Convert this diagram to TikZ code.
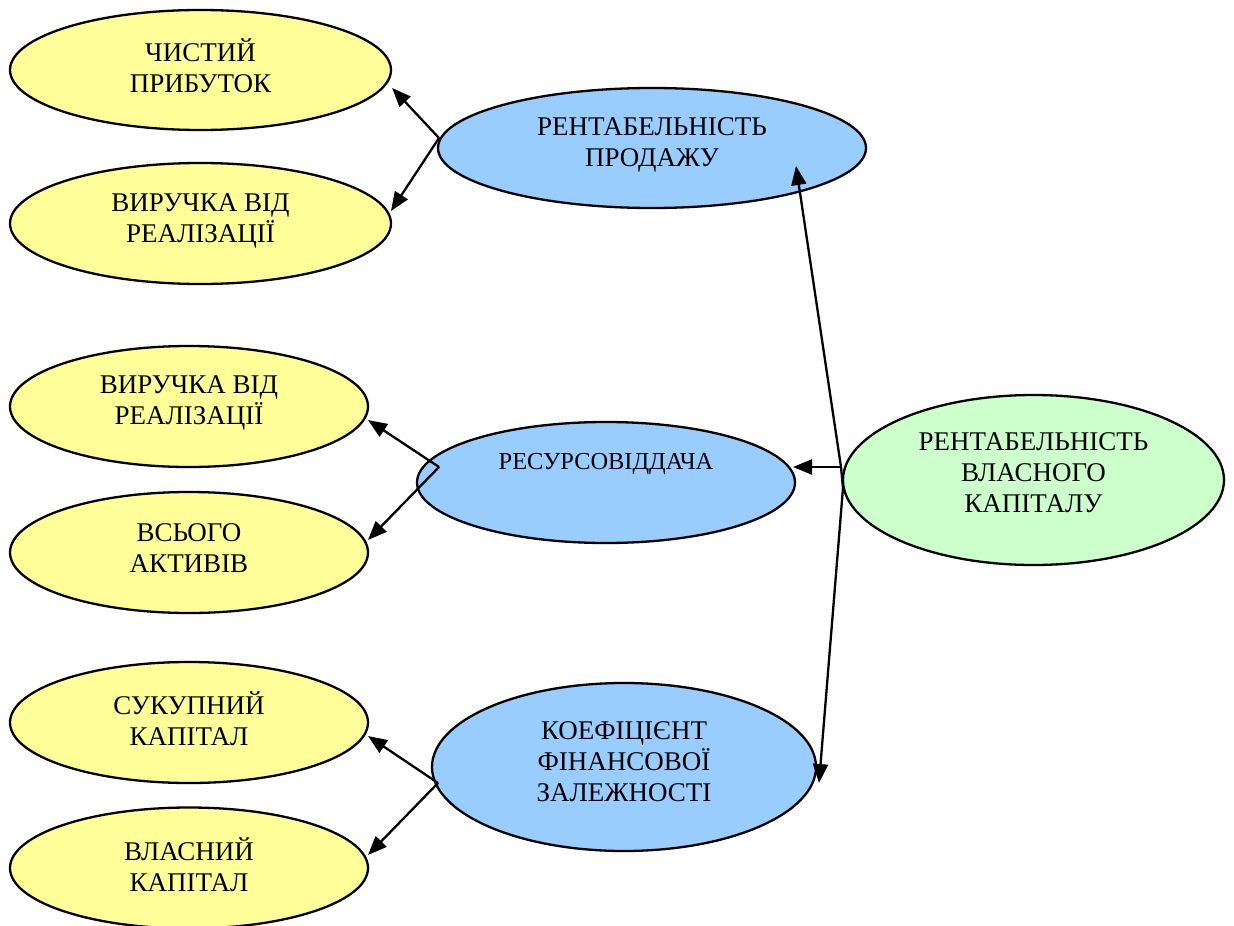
\documentclass[tikz,border=0pt]{standalone}
\usepackage{fontspec}
\setmainfont{Liberation Serif}
\usetikzlibrary{arrows.meta,shapes.geometric}
\definecolor{yel}{HTML}{FFFF99}
\definecolor{blu}{HTML}{99CCFF}
\definecolor{grn}{HTML}{CCFFCC}
\tikzset{
  ell/.style={ellipse, draw=black, line width=2.3pt, inner sep=0pt},
  lbl/.style={align=center, font=\fontsize{27}{31}\selectfont, inner sep=0pt},
  conn/.style={line width=2.3pt, -{Triangle[length=19pt,width=15pt]}},
  plain/.style={line width=2.3pt}
}
\begin{document}
\begin{tikzpicture}[x=1pt,y=-1pt]
\useasboundingbox (0,0) rectangle (1234,926);
% yellow ellipses
\node[ell, fill=yel, minimum width=381pt, minimum height=120pt] (y1) at (200.5,70) {};
\node[ell, fill=yel, minimum width=381pt, minimum height=121pt] (y2) at (200.5,223.5) {};
\node[ell, fill=yel, minimum width=358pt, minimum height=121pt] (y3) at (189,406.5) {};
\node[ell, fill=yel, minimum width=358pt, minimum height=121pt] (y4) at (189,552.5) {};
\node[ell, fill=yel, minimum width=358pt, minimum height=121pt] (y5) at (189,722.5) {};
\node[ell, fill=yel, minimum width=358pt, minimum height=121pt] (y6) at (189,868) {};
% blue ellipses
\node[ell, fill=blu, minimum width=428pt, minimum height=120pt] (b1) at (652,148) {};
\node[ell, fill=blu, minimum width=378pt, minimum height=121pt] (b2) at (606,482.5) {};
\node[ell, fill=blu, minimum width=384pt, minimum height=168pt] (b3) at (624,767) {};
% green
\node[ell, fill=grn, minimum width=381pt, minimum height=170pt] (g) at (1033.5,480) {};
% labels
\node[lbl] (t1) at (200.5,66) {ЧИСТИЙ\\ПРИБУТОК};
\node[lbl] (t2) at (200.5,221) {ВИРУЧКА ВІД\\РЕАЛІЗАЦІЇ};
\node[lbl] (t3) at (189,402.5) {ВИРУЧКА ВІД\\РЕАЛІЗАЦІЇ};
\node[lbl] (t4) at (189,548.5) {ВСЬОГО\\АКТИВІВ};
\node[lbl] (t5) at (189,718.5) {СУКУПНИЙ\\КАПІТАЛ};
\node[lbl] (t6) at (189,864.5) {ВЛАСНИЙ\\КАПІТАЛ};
\node[lbl] (tb1) at (652,145) {РЕНТАБЕЛЬНІСТЬ\\ПРОДАЖУ};
\node[lbl, font=\fontsize{24.4}{28}\selectfont] (tb2) at (606,464) {РЕСУРСОВІДДАЧА};
\node[lbl] (tb3) at (624,762) {КОЕФІЦІЄНТ\\ФІНАНСОВОЇ\\ЗАЛЕЖНОСТІ};
\node[lbl] (tg) at (1033.5,473) {РЕНТАБЕЛЬНІСТЬ\\ВЛАСНОГО\\КАПІТАЛУ};
% junctions
\coordinate (j1) at (439,138);
\coordinate (j2) at (439,467);
\coordinate (j3) at (438,783);
\coordinate (j0) at (841,467);
\coordinate (j0b) at (843,488);
% connectors
\draw[conn] (j1) -- (y1.east |- 0,88) coordinate (e1);
\draw[conn] (j1) -- (391,211) coordinate (e2);
\draw[conn] (j2) -- (368,420) coordinate (e3);
\draw[conn] (j2) -- (368,540) coordinate (e4);
\draw[conn] (j3) -- (368,736) coordinate (e5);
\draw[conn] (j3) -- (368,855) coordinate (e6);
\draw[conn] (j0) -- (796,166) coordinate (e7);
\draw[conn] (j0) -- (793,467) coordinate (e8);
\draw[plain] (j0) -- (j0b);
\draw[conn] (j0b) -- (819,783) coordinate (e9);
\end{tikzpicture}
\end{document}
